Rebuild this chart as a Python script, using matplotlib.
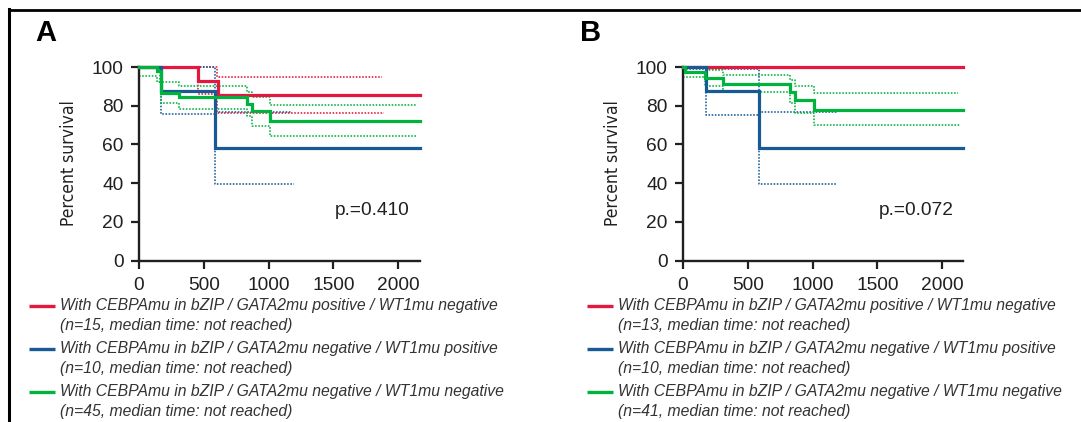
import matplotlib
matplotlib.use("Agg")
import matplotlib.pyplot as plt
from matplotlib.lines import Line2D

plt.rcParams["font.family"] = ["Liberation Sans", "DejaVu Sans"]

RED = "#e5173f"
BLUE = "#175a95"
GREEN = "#00b33c"
INK = "#231f20"

# ---------------------------------------------------------------------------
# Kaplan-Meier estimates (time in days, percent survival)
# ---------------------------------------------------------------------------
a_red_t = [0, 452, 607, 2165]
a_red_s = [100, 92.9, 85.7, 85.7]
a_red_hi_t = [0, 600, 1877]
a_red_hi_s = [100, 95.0, 95.0]
a_red_lo_t = [0, 452, 600, 1891]
a_red_lo_s = [100, 85.9, 76.2, 76.2]

a_blue_t = [0, 173, 586, 2165]
a_blue_s = [100, 87.5, 58.3, 58.3]
a_blue_hi_t = [0, 586, 1170]
a_blue_hi_s = [100, 76.8, 76.8]
a_blue_lo_t = [0, 173, 586, 1196]
a_blue_lo_s = [100, 75.7, 39.6, 39.6]

a_green_t = [0, 140, 170, 305, 831, 876, 1009, 2165]
a_green_s = [100, 97.8, 86.7, 84.4, 80.7, 77.1, 72.3, 72.3]
a_green_hi_t = [0, 160, 305, 831, 876, 1009, 2138]
a_green_hi_s = [100, 92.3, 90.2, 87.0, 84.3, 80.4, 80.4]
a_green_lo_t = [0, 140, 170, 305, 831, 876, 1009, 2141]
a_green_lo_s = [95.5, 92.0, 81.6, 78.4, 74.5, 69.5, 64.1, 64.1]

b_red_t = [0, 2162]
b_red_s = [100, 100]

b_blue_t = [0, 181, 588, 2162]
b_blue_s = [100, 87.5, 58.3, 58.3]
b_blue_hi_t = [0, 588, 1188]
b_blue_hi_s = [99.0, 76.8, 76.8]
b_blue_lo_t = [0, 181, 588, 1188]
b_blue_lo_s = [100, 75.4, 39.3, 39.3]

b_green_t = [0, 16, 170, 309, 828, 868, 1015, 2162]
b_green_s = [100, 97.6, 94.5, 91.4, 87.3, 83.0, 78.0, 78.0]
b_green_hi_t = [0, 170, 309, 828, 868, 1015, 2125]
b_green_hi_s = [100, 98.2, 95.9, 93.2, 90.2, 86.4, 86.4]
b_green_lo_t = [0, 170, 309, 828, 868, 1015, 2141]
b_green_lo_s = [94.6, 90.2, 87.0, 81.6, 76.3, 70.0, 70.0]

p_values = ["p.=0.410", "p.=0.072"]
panel_labels = ["A", "B"]
x_ticks = [0, 500, 1000, 1500, 2000]
y_ticks = [0, 20, 40, 60, 80, 100]

legend_a = [
    "With CEBPAmu in bZIP / GATA2mu positive / WT1mu negative",
    "(n=15, median time: not reached)",
    "With CEBPAmu in bZIP / GATA2mu negative / WT1mu positive",
    "(n=10, median time: not reached)",
    "With CEBPAmu in bZIP / GATA2mu negative / WT1mu negative",
    "(n=45, median time: not reached)",
]
legend_b = [
    "With CEBPAmu in bZIP / GATA2mu positive / WT1mu negative",
    "(n=13, median time: not reached)",
    "With CEBPAmu in bZIP / GATA2mu negative / WT1mu positive",
    "(n=10, median time: not reached)",
    "With CEBPAmu in bZIP / GATA2mu negative / WT1mu negative",
    "(n=41, median time: not reached)",
]

W, H = 1081, 422
fig = plt.figure(figsize=(W / 100, H / 100), dpi=100)

# outer frame (top and left edges only)
fig.add_artist(Line2D([8.5 / W, 1], [1 - 10 / H, 1 - 10 / H], transform=fig.transFigure,
                      color="black", linewidth=2.0))
fig.add_artist(Line2D([8.5 / W, 8.5 / W], [0, 1 - 9 / H], transform=fig.transFigure,
                      color="black", linewidth=2.2))


def km_panel(ax, curves, bands, xmax):
    for t, s, c in bands:
        ax.step(t, s, where="post", color=c, linewidth=1.15, linestyle=(0, (1, 1)),
                clip_on=False, zorder=2)
    for t, s, c in curves:
        ax.step(t, s, where="post", color=c, linewidth=2.3, clip_on=False, zorder=3,
                solid_joinstyle="miter")
    ax.set_xlim(0, xmax)
    ax.set_ylim(0, 100)
    ax.set_xticks(x_ticks)
    ax.set_yticks(y_ticks)
    for side in ("top", "right"):
        ax.spines[side].set_visible(False)
    for side in ("left", "bottom"):
        ax.spines[side].set_linewidth(1.7)
        ax.spines[side].set_color(INK)
    ax.tick_params(direction="out", length=6, width=1.6, color=INK,
                   labelsize=13.8, labelcolor=INK)
    ax.tick_params(axis="x", pad=6)
    ax.tick_params(axis="y", pad=5)


panels = [
    dict(left=139, right=419.5, xmax=2165,
         curves=[(a_red_t, a_red_s, RED), (a_blue_t, a_blue_s, BLUE), (a_green_t, a_green_s, GREEN)],
         bands=[(a_red_hi_t, a_red_hi_s, RED), (a_red_lo_t, a_red_lo_s, RED),
                (a_blue_hi_t, a_blue_hi_s, BLUE), (a_blue_lo_t, a_blue_lo_s, BLUE),
                (a_green_hi_t, a_green_hi_s, GREEN), (a_green_lo_t, a_green_lo_s, GREEN)],
         legend=legend_a, lab_x=35, ylab_x=69, leg_x=28.5),
    dict(left=683, right=963, xmax=2162,
         curves=[(b_red_t, b_red_s, RED), (b_blue_t, b_blue_s, BLUE), (b_green_t, b_green_s, GREEN)],
         bands=[(b_blue_hi_t, b_blue_hi_s, BLUE), (b_blue_lo_t, b_blue_lo_s, BLUE),
                (b_green_hi_t, b_green_hi_s, GREEN), (b_green_lo_t, b_green_lo_s, GREEN)],
         legend=legend_b, lab_x=580, ylab_x=613, leg_x=587),
]

top_px, bot_px = 67, 260.5
for i, p in enumerate(panels):
    ax = fig.add_axes([p["left"] / W, 1 - bot_px / H, (p["right"] - p["left"]) / W,
                       (bot_px - top_px) / H])
    km_panel(ax, p["curves"], p["bands"], p["xmax"])
    ax.text(1513, 25.9, p_values[i], fontsize=13.8, color=INK, ha="left", va="center")

    fig.text(p["lab_x"] / W, 1 - 19 / H, panel_labels[i], fontsize=21, fontweight="bold",
             color="black", ha="left", va="top")
    fig.text(p["ylab_x"] / W, 1 - 163 / H, "Percent survival", rotation=90,
             fontsize=12.6, color=INK, ha="center", va="center",
             family="DejaVu Sans", fontstretch="condensed")

    # legend keys with two-line labels
    row_y = [305.5, 325.5, 348.5, 368.5, 391.5, 411.5]
    colors = [RED, None, BLUE, None, GREEN, None]
    for y, txt, c in zip(row_y, p["legend"], colors):
        if c is not None:
            fig.add_artist(Line2D([p["leg_x"] / W, (p["leg_x"] + 26) / W],
                                  [1 - y / H, 1 - y / H], transform=fig.transFigure,
                                  color=c, linewidth=2.4, solid_capstyle="butt"))
        fig.text((p["leg_x"] + 31.5) / W, 1 - y / H, txt, fontsize=11.3, style="italic",
                 color="#333333", ha="left", va="center")

fig.savefig("out.png", dpi=100)
